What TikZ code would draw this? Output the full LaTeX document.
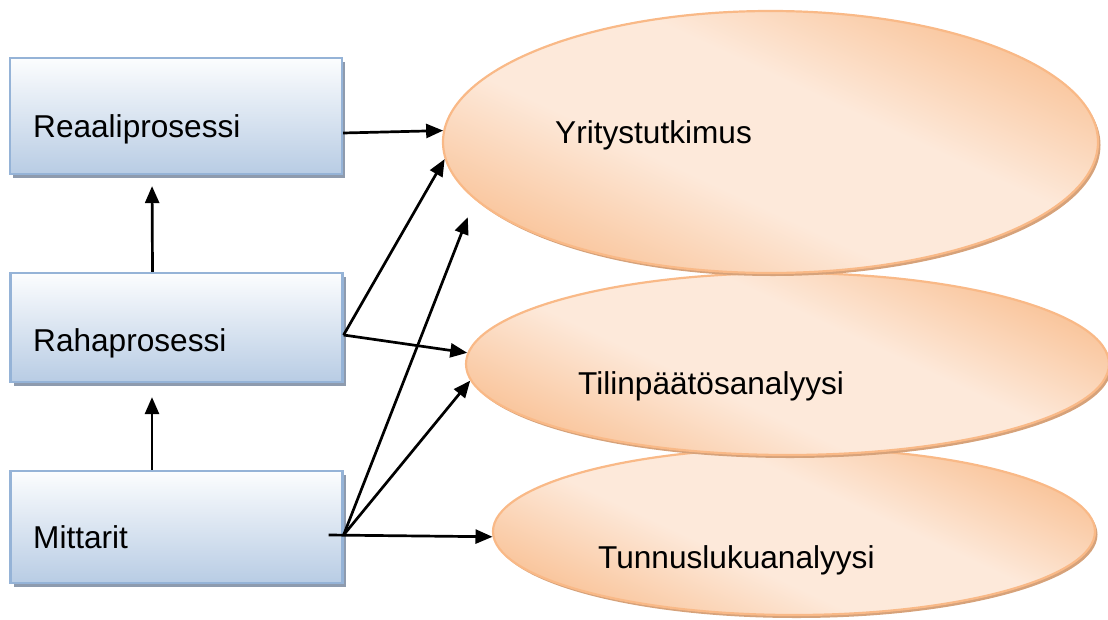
\documentclass[tikz,border=0pt]{standalone}
\usepackage{fontspec}
\setmainfont{Liberation Sans}
\usetikzlibrary{shapes.geometric,shadows,arrows.meta}
\definecolor{bxB}{HTML}{95B3D7}
\definecolor{bxT}{HTML}{FCFDFE}
\definecolor{bxBot}{HTML}{B8CCE4}
\definecolor{bxS}{HTML}{8E9BAE}
\definecolor{pkB}{HTML}{F9B987}
\definecolor{pkD}{HTML}{F9C49A}
\definecolor{pkL}{HTML}{FDE9DA}
\definecolor{pkS}{HTML}{D6A27A}
\pgfdeclarehorizontalshading{peachshade}{100bp}{color(0bp)=(pkD); color(25bp)=(pkD); color(42bp)=(pkL); color(58bp)=(pkL); color(75bp)=(pkD); color(100bp)=(pkD)}
\begin{document}
\begin{tikzpicture}[x=1pt,y=-1pt,
  box/.style={draw=bxB, line width=2.2pt, top color=bxT, bottom color=bxBot,
    minimum width=332pt, inner sep=0pt,
    drop shadow={shadow xshift=3pt, shadow yshift=-3.5pt, fill=bxS, opacity=1}},
  ell/.style={ellipse, draw=pkB, line width=2.2pt, shade, shading=peachshade, shading angle=65,
    inner sep=0pt,
    drop shadow={shadow xshift=2.5pt, shadow yshift=-3pt, fill=pkS, opacity=1}},
  lbl/.style={font=\fontsize{31.6}{38}\selectfont, inner sep=0pt, anchor=base west},
  arr/.style={line width=2.7pt, -{Triangle[length=17pt,width=14pt]}}]
\useasboundingbox (0,0) rectangle (1108,619);

% boxes
\node[box, minimum height=116pt] (r) at (176,116) {};
\node[box, minimum height=109pt] (rp) at (176.5,327.5) {};
\node[box, minimum height=112pt] (m) at (176.5,527) {};

% ellipses
\node[ell, minimum width=602pt, minimum height=167pt] (tu) at (794,531.5) {};
\node[ell, minimum width=643pt, minimum height=182pt] (ti) at (787.5,364) {};
\node[ell, minimum width=655pt, minimum height=262pt] (yr) at (770.5,142) {};

% labels
\node[lbl] (rt) at (33,137) {Reaaliprosessi};
\node[lbl] (rpt) at (33,351) {Rahaprosessi};
\node[lbl] (mt) at (33,548) {Mittarit};
\node[lbl] (yrt) at (555,143) {Yritystutkimus};
\node[lbl] (tit) at (578,394) {Tilinpäätösanalyysi};
\node[lbl] (tut) at (598,568) {Tunnuslukuanalyysi};

% connectors
\draw[arr, shorten >=11pt] ([xshift=-24pt]rp.north) -- ([xshift=-24pt]r.south);
\draw[arr, shorten >=14pt] ([xshift=-24.5pt]m.north) -- ([xshift=-24.5pt]rp.south);
\draw[arr] ([yshift=-17pt]r.east) -- (yr.178.4);
\draw[arr] ([yshift=-7.5pt]rp.east) -- (yr.183);
\draw[arr] ([yshift=-7.5pt]rp.east) -- (ti.178.9);
\draw[arr, shorten >=19pt] ([yshift=-8pt]m.east) -- (yr.191.2);
\draw[arr] ([yshift=-8pt]m.east) -- (ti.183.4);
\draw[arr] ([xshift=-15pt,yshift=-8pt]m.east) -- (tu.181.6);
\end{tikzpicture}
\end{document}
